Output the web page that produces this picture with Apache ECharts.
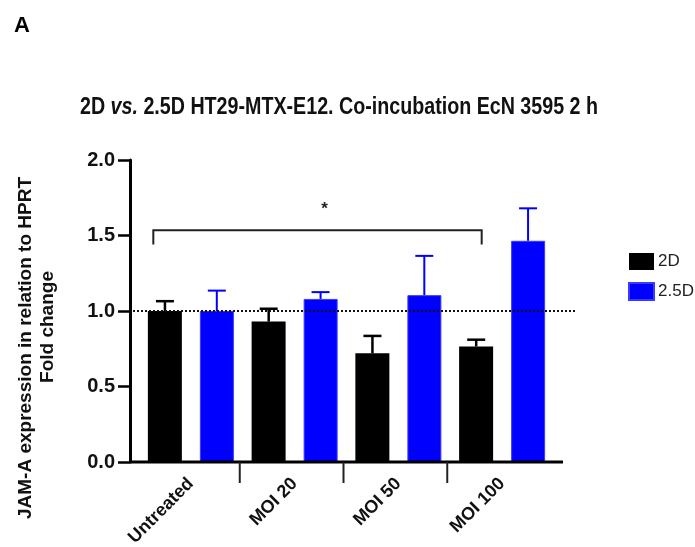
<!DOCTYPE html>
<html>
<head>
<meta charset="utf-8">
<script src="https://cdn.jsdelivr.net/npm/echarts@6/dist/echarts.min.js"></script>
<style>
  html, body { margin: 0; padding: 0; background: #fff; }
  #chart { width: 695px; height: 547px; }
</style>
</head>
<body>
<div id="chart"></div>
<script>
// data
const categories = ['Untreated', 'MOI 20', 'MOI 50', 'MOI 100'];
const mean2D = [1.0, 0.93, 0.72, 0.765];
const top2D = [1.065, 1.015, 0.835, 0.81];
const mean25D = [1.0, 1.08, 1.105, 1.465];
const top25D = [1.135, 1.125, 1.365, 1.68];
const yTicks = [0, 2, 0.5];        // min, max, interval
const refLine = 1.0;
const bracket = [0, 3, 1.535, 1.44]; // from cat, to cat, bar level, leg end
const starLevel = 1.675;
const separators = [1, 2, 3];

const chart = echarts.init(document.getElementById('chart'));

const boldFont = 'Liberation Sans, Arial, sans-serif';

function errorBars(means, tops, side, color, lw) {
  return {
    type: 'custom',
    silent: true,
    z: 5,
    data: means.map((m, i) => [i, m, tops[i]]),
    renderItem: function (params, api) {
      const band = api.size([1, 0])[0];
      const p0 = api.coord([api.value(0), api.value(1)]);
      const p1 = api.coord([api.value(0), api.value(2)]);
      const x = p0[0] + side * band * 0.25;
      return {
        type: 'group',
        children: [
          { type: 'line', shape: { x1: x, y1: p0[1], x2: x, y2: p1[1] }, style: { stroke: color, lineWidth: lw } },
          { type: 'line', shape: { x1: x - 9, y1: p1[1], x2: x + 9, y2: p1[1] }, style: { stroke: color, lineWidth: lw } }
        ]
      };
    }
  };
}

const option = {
  animation: false,
  legend: {
    orient: 'vertical',
    left: 623,
    top: 248,
    itemWidth: 25,
    itemHeight: 17,
    itemGap: 12,
    icon: 'rect',
    data: ['2D', '2.5D'],
    textStyle: { fontSize: 17, color: '#222', fontFamily: boldFont, padding: [0, 0, 0, -1] }
  },
  grid: {
    left: 139,
    right: 141,
    top: 160,
    bottom: 85,
    outerBoundsMode: 'none'
  },
  xAxis: {
    type: 'category',
    data: categories,
    axisLine: { show: false },
    axisTick: { show: false },
    axisLabel: {
      rotate: 45,
      margin: 19,
      fontSize: 18,
      fontWeight: 'bold',
      fontFamily: boldFont,
      color: '#111'
    }
  },
  yAxis: {
    type: 'value',
    min: yTicks[0],
    max: yTicks[1],
    interval: yTicks[2],
    offset: 9,
    splitLine: { show: false },
    axisLine: { show: true, lineStyle: { color: '#000', width: 3 } },
    axisTick: { show: true, length: 12, lineStyle: { color: '#000', width: 2.5 } },
    axisLabel: {
      margin: 15,
      fontSize: 20,
      fontWeight: 'bold',
      fontFamily: boldFont,
      color: '#111',
      formatter: v => v.toFixed(1)
    }
  },
  graphic: [
    { type: 'text', left: 14, top: 15, style: { text: 'A', font: 'bold 22px ' + boldFont, fill: '#000' } },
    {
      type: 'text', x: 80, y: 108, scaleX: 0.855,
      style: {
        text: '{b|2D }{i|vs.}{b| 2.5D HT29-MTX-E12. Co-incubation EcN 3595 2 h}',
        textAlign: 'left',
        textVerticalAlign: 'middle',
        rich: {
          b: { fontFamily: boldFont, fontWeight: 'bold', fontSize: 23, fill: '#111' },
          i: { fontFamily: boldFont, fontWeight: 'bold', fontStyle: 'italic', fontSize: 23, fill: '#111' }
        }
      }
    },
    {
      type: 'text', x: 26, y: 348, rotation: Math.PI / 2,
      style: { text: 'JAM-A expression in relation to HPRT', font: 'bold 19px ' + boldFont, fill: '#111', textAlign: 'center', textVerticalAlign: 'middle' }
    },
    {
      type: 'text', x: 48, y: 327, rotation: Math.PI / 2,
      style: { text: 'Fold change', font: 'bold 19px ' + boldFont, fill: '#111', textAlign: 'center', textVerticalAlign: 'middle' }
    }
  ],
  series: [
    {
      name: '2D',
      type: 'bar',
      data: mean2D,
      barWidth: 34,
      barGap: '53%',
      itemStyle: { color: '#000' }
    },
    {
      name: '2.5D',
      type: 'bar',
      data: mean25D,
      barWidth: 34,
      itemStyle: { color: '#0000ff', borderColor: '#3a3aff', borderWidth: 1 }
    },
    errorBars(mean2D, top2D, -1, '#000', 2.5),
    errorBars(mean25D, top25D, 1, '#0000ff', 2),
    {
      // x axis line and dotted reference line
      type: 'custom',
      silent: true,
      z: 6,
      data: [[refLine]],
      renderItem: function (params, api) {
        const cs = params.coordSys;
        const y0 = api.coord([0, 0])[1];
        const yr = api.coord([0, api.value(0)])[1];
        return {
          type: 'group',
          children: [
            { type: 'line', shape: { x1: cs.x - 9, y1: y0, x2: cs.x + cs.width + 9, y2: y0 }, style: { stroke: '#000', lineWidth: 3 } },
            { type: 'line', shape: { x1: cs.x - 6, y1: yr, x2: cs.x + cs.width + 21, y2: yr }, style: { stroke: '#111', lineWidth: 2, lineDash: [2, 2] } }
          ]
        };
      }
    },
    {
      // category separator ticks
      type: 'custom',
      silent: true,
      z: 6,
      data: separators.map(i => [i]),
      renderItem: function (params, api) {
        const band = api.size([1, 0])[0];
        const p = api.coord([api.value(0), 0]);
        const x = p[0] - band / 2 - 3;
        return { type: 'line', shape: { x1: x, y1: p[1], x2: x, y2: p[1] + 21 }, style: { stroke: '#222', lineWidth: 2 } };
      }
    },
    {
      // significance bracket
      type: 'custom',
      silent: true,
      z: 6,
      data: [bracket],
      renderItem: function (params, api) {
        const band = api.size([1, 0])[0];
        const a = api.coord([api.value(0), api.value(2)]);
        const b = api.coord([api.value(1), api.value(2)]);
        const legY = api.coord([0, api.value(3)])[1];
        const starY = api.coord([0, starLevel])[1];
        const x1 = a[0] - band * 0.362;
        const x2 = b[0] - band * 0.197;
        return {
          type: 'group',
          children: [
            { type: 'polyline', shape: { points: [[x1, legY], [x1, a[1]], [x2, a[1]], [x2, legY]] }, style: { stroke: '#222', lineWidth: 2, fill: null } },
            { type: 'text', x: (x1 + x2) / 2 + 7, y: starY, style: { text: '*', font: 'bold 17px ' + boldFont, fill: '#222', textAlign: 'center', textVerticalAlign: 'middle' } }
          ]
        };
      }
    }
  ]
};

chart.setOption(option);
</script>
</body>
</html>
